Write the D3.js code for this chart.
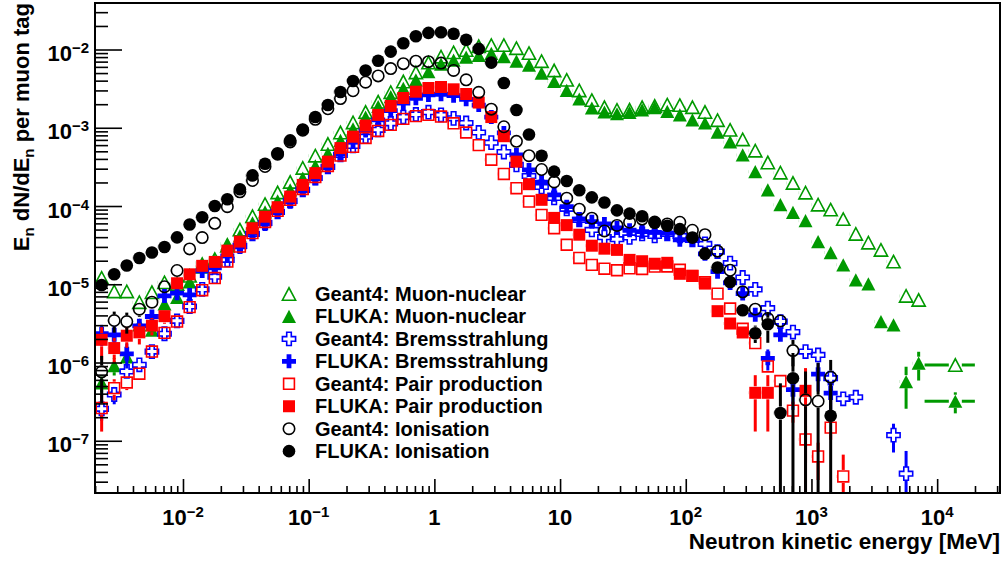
<!DOCTYPE html>
<meta charset="utf-8">
<style>
body { margin: 0; background: #fff; }
svg { display: block; font-family: "Liberation Sans", Arial, Helvetica, sans-serif; font-weight: bold; }
</style>
<svg width="1004" height="561"></svg>
<script src="https://d3js.org/d3.v7.min.js"></script>
<script>

// histogram binning: 0.1-decade bins starting at 10^-2.7, the last bin is a wide one [10^3.9, 10^4.3]
var edges = d3.range(67).map(function(k) { return Math.pow(10, -2.7 + 0.1 * k); });
edges.push(Math.pow(10, 4.3));

// E dN/dE per muon tag, one entry per bin (null = empty bin)
var g4MuNuc = [1.21e-5, 8.1e-6, 8.1e-6, 5.9e-6, 7.9e-6, 1.06e-5, 1.01e-5, 1.28e-5, 1.67e-5, 2.1e-5,
  3.1e-5, 5.0e-5, 7.4e-5, 1.06e-4, 1.49e-4, 2.03e-4, 3.07e-4, 4.4e-4, 6.2e-4, 8.7e-4,
  1.17e-3, 1.59e-3, 2.15e-3, 2.85e-3, 3.9e-3, 5.1e-3, 6.8e-3, 8.1e-3, 9.2e-3, 9.85e-3,
  1.1e-2, 1.14e-2, 1.14e-2, 1.04e-2, 9.0e-3, 7.1e-3, 5.4e-3, 4.1e-3, 3.0e-3, 2.26e-3,
  1.83e-3, 1.69e-3, 1.70e-3, 1.83e-3, 1.9e-3, 1.98e-3, 1.95e-3, 1.83e-3, 1.59e-3, 1.25e-3,
  9.4e-4, 7.1e-4, 5.1e-4, 3.6e-4, 2.67e-4, 1.97e-4, 1.48e-4, 1.04e-4, 9.0e-5, 6.8e-5,
  4.4e-5, 3.4e-5, 2.75e-5, 1.95e-5, 7.1e-6, 6.3e-6, 9.3e-7];

var flukaMuNuc = [5.5e-7, 9.1e-7, 1.18e-6, 3.03e-6, 2.6e-6, 5.6e-6, 6.8e-6, 1.07e-5, 1.88e-5, 1.99e-5,
  3.3e-5, 4.15e-5, 6.1e-5, 8.4e-5, 1.16e-4, 1.61e-4, 2.28e-4, 3.25e-4, 4.7e-4, 6.9e-4,
  9.7e-4, 1.37e-3, 1.87e-3, 2.5e-3, 3.2e-3, 4.1e-3, 5.2e-3, 6.5e-3, 7.3e-3, 8.0e-3,
  8.4e-3, 8.9e-3, 8.1e-3, 7.1e-3, 6.3e-3, 5.0e-3, 3.9e-3, 3.0e-3, 2.33e-3, 1.79e-3,
  1.59e-3, 1.51e-3, 1.57e-3, 1.69e-3, 1.81e-3, 1.62e-3, 1.46e-3, 1.26e-3, 1.15e-3, 8.8e-4,
  6.6e-4, 4.5e-4, 2.75e-4, 1.61e-4, 1.04e-4, 8.3e-5, 6.5e-5, 3.5e-5, 2.54e-5, 1.77e-5,
  1.14e-5, 1.01e-5, 3.34e-6, 3.03e-6, 5.7e-7, 9.8e-7, 3.2e-7];

var g4Brems = [2.56e-7, 3.9e-7, 7.7e-7, 9.35e-7, 1.38e-6, 2.33e-6, 3.41e-6, 5.2e-6, 8.6e-6, 1.25e-5,
  2.05e-5, 3.1e-5, 4.4e-5, 6.1e-5, 8.4e-5, 1.16e-4, 1.61e-4, 2.28e-4, 3.16e-4, 4.5e-4,
  5.86e-4, 7.7e-4, 9.4e-4, 1.14e-3, 1.37e-3, 1.48e-3, 1.58e-3, 1.46e-3, 1.32e-3, 1.15e-3,
  8.7e-4, 6.45e-4, 4.9e-4, 3.35e-4, 2.42e-4, 1.75e-4, 1.27e-4, 9.2e-5, 6.64e-5, 4.95e-5,
  4.0e-5, 3.77e-5, 3.97e-5, 4.4e-5, 4.15e-5, 4.4e-5, 4.15e-5, 3.7e-5, 3.28e-5, 2.62e-5,
  1.86e-5, 1.22e-5, 8.6e-6, 4.95e-6, 3.34e-6, 2.45e-6, 1.38e-6, 1.25e-6, 6.3e-7, 3.44e-7,
  3.6e-7, null, null, 1.18e-7, 3.8e-8];

var flukaBrems = [2.33e-6, 2.26e-6, 1.29e-6, 2.94e-6, 3.87e-6, 7.1e-6, 7.7e-6, 7.3e-6, 1.48e-5, 1.62e-5,
  2.3e-5, 3.0e-5, 4.47e-5, 5.9e-5, 8.4e-5, 1.13e-4, 1.61e-4, 2.26e-4, 3.19e-4, 4.6e-4,
  6.6e-4, 9.2e-4, 1.26e-3, 1.66e-3, 2.07e-3, 2.38e-3, 2.63e-3, 2.68e-3, 2.57e-3, 2.31e-3,
  1.95e-3, 1.37e-3, 8.6e-4, 4.5e-4, 2.89e-4, 2.02e-4, 1.39e-4, 9.8e-5, 6.8e-5, 6.3e-5,
  5.9e-5, 5.25e-5, 4.9e-5, 4.7e-5, 4.6e-5, 4.5e-5, 3.7e-5, 3.77e-5, 2.45e-5, 1.45e-5,
  1.04e-5, 7.6e-6, 4.07e-6, 1.13e-6, 2.26e-6, 4.5e-7, null, 7.1e-7, 4.07e-7];

var g4Pair = [2.62e-7, 4.7e-7, 5.55e-7, 7.2e-7, 1.38e-6, 2.39e-6, 3.34e-6, 5.1e-6, 8.4e-6, 1.2e-5,
  1.95e-5, 3.03e-5, 4.5e-5, 6.25e-5, 8.66e-5, 1.2e-4, 1.65e-4, 2.35e-4, 3.25e-4, 4.4e-4,
  5.7e-4, 7.4e-4, 9.1e-4, 1.09e-3, 1.3e-3, 1.41e-3, 1.46e-3, 1.39e-3, 1.14e-3, 8.7e-4,
  6.0e-4, 3.9e-4, 2.57e-4, 1.69e-4, 1.14e-4, 7.7e-5, 5.2e-5, 3.2e-5, 2.17e-5, 1.77e-5,
  1.58e-5, 1.51e-5, 1.6e-5, 1.57e-5, 1.68e-5, 1.69e-5, 1.53e-5, 1.28e-5, 1.06e-5, 7.6e-6,
  4.9e-6, 2.7e-6, 1.77e-6, 8.9e-7, 5.8e-7, 2.43e-7, 1.04e-7, 6.3e-8, 1.47e-7, 3.5e-8];

var flukaPair = [1.95e-6, 1.53e-6, 2.2e-6, 2.43e-6, 2.96e-6, 3.91e-6, 1.03e-5, 1.34e-5, 1.72e-5, 1.93e-5,
  2.69e-5, 3.51e-5, 5.2e-5, 7.3e-5, 9.66e-5, 1.32e-4, 1.86e-4, 2.63e-4, 3.69e-4, 5.5e-4,
  7.7e-4, 1.07e-3, 1.46e-3, 1.9e-3, 2.4e-3, 2.89e-3, 3.22e-3, 3.32e-3, 3.1e-3, 2.7e-3,
  2.1e-3, 1.37e-3, 7.8e-4, 3.69e-4, 1.9e-4, 1.2e-4, 7.05e-5, 5.7e-5, 4.3e-5, 3.11e-5,
  2.85e-5, 2.75e-5, 2.05e-5, 1.97e-5, 1.83e-5, 1.88e-5, 1.36e-5, 1.28e-5, 1.02e-5, 4.53e-6,
  3.15e-6, 2.42e-6, 4.1e-7, 4.1e-7, null, null, 4.35e-7];

var g4Ion = [7.6e-7, 3.44e-6, 3.34e-6, 4.8e-6, 5.9e-6, 9.3e-6, 1.5e-5, 2.83e-5, 3.95e-5, 6.0e-5,
  9.8e-5, 1.52e-4, 2.12e-4, 3.2e-4, 4.6e-4, 6.6e-4, 9.3e-4, 1.28e-3, 1.75e-3, 2.36e-3,
  2.97e-3, 3.82e-3, 4.6e-3, 5.7e-3, 6.6e-3, 7.1e-3, 7.0e-3, 6.7e-3, 5.4e-3, 4.1e-3,
  2.84e-3, 1.73e-3, 1.03e-3, 6.7e-4, 4.4e-4, 2.93e-4, 2.03e-4, 1.26e-4, 9.1e-5, 7.0e-5,
  4.8e-5, 5.65e-5, 6.2e-5, 6.8e-5, 6.25e-5, 5.9e-5, 6.2e-5, 4.9e-5, 4.3e-5, 2.65e-5,
  1.51e-5, 8.0e-6, 4.8e-6, 3.65e-6, 3.4e-6, 1.42e-6, 3.34e-7, 3.2e-7, 6.5e-7];

var flukaIon = [9.8e-6, 1.34e-5, 1.74e-5, 2.17e-5, 2.55e-5, 3.0e-5, 3.97e-5, 5.8e-5, 7.2e-5, 1.0e-4,
  1.22e-4, 1.64e-4, 2.46e-4, 3.47e-4, 4.72e-4, 6.9e-4, 9.5e-4, 1.37e-3, 1.95e-3, 2.86e-3,
  3.96e-3, 5.4e-3, 7.2e-3, 9.4e-3, 1.2e-2, 1.48e-2, 1.63e-2, 1.66e-2, 1.59e-2, 1.33e-2,
  1.02e-2, 6.8e-3, 3.73e-3, 1.69e-3, 8.2e-4, 4.39e-4, 2.75e-4, 2.09e-4, 1.59e-4, 1.29e-4,
  1.11e-4, 8.8e-5, 8.0e-5, 7.4e-5, 6.1e-5, 5.6e-5, 5.06e-5, 3.95e-5, 2.46e-5, 1.64e-5,
  1.07e-5, 4.65e-6, 2.37e-6, 3.08e-6, 2.26e-7, 6.3e-7, null, null, 2.09e-7];

// relative statistical errors [bin, sigma/value] where the bar sticks out of the marker
var g4MuNucErr = [[0, 0.15], [1, 0.1], [2, 0.1], [3, 0.12], [64, 0.15], [65, 0.15], [66, 0.1]];
var flukaMuNucErr = [[0, 0.25], [1, 0.25], [2, 0.2], [3, 0.2], [4, 0.15], [62, 0.12], [63, 0.12], [64, 0.55], [65, 0.4], [66, 0.3]];
var g4BremsErr = [[0, 0.3], [1, 0.25], [2, 0.15], [59, 0.15], [60, 0.15], [63, 0.4], [64, 0.95]];
var flukaBremsErr = [[0, 0.3], [1, 0.3], [2, 0.35], [3, 0.2], [53, 0.3], [55, 0.45], [57, 0.4], [58, 0.4]];
var g4PairErr = [[0, 0.5], [1, 0.3], [2, 0.2], [55, 0.3], [56, 0.5], [57, 0.5], [58, 0.3], [59, 0.9]];
var flukaPairErr = [[0, 0.45], [1, 0.35], [2, 0.3], [3, 0.3], [4, 0.25], [5, 0.2], [50, 0.12], [51, 0.15], [52, 0.68], [53, 0.68], [56, 0.95]];
var g4IonErr = [[0, 0.6], [1, 0.3], [2, 0.3], [3, 0.2], [55, 0.37], [56, 1.3], [57, 2.1], [58, 0.66]];
var flukaIonErr = [[51, 0.15], [52, 0.25], [53, 0.42], [54, 1.4], [55, 1.1], [58, 1.2]];

var xTickExp = [-2, -1, 0, 1, 2, 3, 4];
var yTickExp = [-7, -6, -5, -4, -3, -2];

var green = "#009900", blue = "#0000ff", red = "#ff0000", black = "#000000";

var series = [
  {name: "Geant4: Muon-nuclear", values: g4MuNuc, errs: g4MuNucErr, color: green, shape: "tri", filled: false},
  {name: "FLUKA: Muon-nuclear", values: flukaMuNuc, errs: flukaMuNucErr, color: green, shape: "tri", filled: true},
  {name: "Geant4: Bremsstrahlung", values: g4Brems, errs: g4BremsErr, color: blue, shape: "cross", filled: false},
  {name: "FLUKA: Bremsstrahlung", values: flukaBrems, errs: flukaBremsErr, color: blue, shape: "cross", filled: true},
  {name: "Geant4: Pair production", values: g4Pair, errs: g4PairErr, color: red, shape: "square", filled: false},
  {name: "FLUKA: Pair production", values: flukaPair, errs: flukaPairErr, color: red, shape: "square", filled: true},
  {name: "Geant4: Ionisation", values: g4Ion, errs: g4IonErr, color: black, shape: "circle", filled: false},
  {name: "FLUKA: Ionisation", values: flukaIon, errs: flukaIonErr, color: black, shape: "circle", filled: true}
];

var svg = d3.select("svg"),
    padL = 95, padR = 1000, padT = 3, padB = 493;

var x = d3.scaleLog().domain([Math.pow(10, -2.7), Math.pow(10, 4.5)]).range([padL, padR]);
var y = d3.scaleLog().domain([2.15e-8, 3.93e-2]).range([padB, padT]);

function markerPath(shape, filled) {
  if (shape === "circle") {
    var r = filled ? 6.3 : 5.7;
    return "M" + (-r) + ",0A" + r + "," + r + " 0 1,0 " + r + ",0A" + r + "," + r + " 0 1,0 " + (-r) + ",0Z";
  }
  if (shape === "square") {
    var s = filled ? 6 : 5.4;
    return "M" + (-s) + "," + (-s) + "H" + s + "V" + s + "H" + (-s) + "Z";
  }
  if (shape === "tri") {
    var w = filled ? 7 : 6.6, h = filled ? 6.6 : 6.2;
    return "M" + (-w) + "," + h + "L" + w + "," + h + "L0," + (-h) + "Z";
  }
  // cross
  var c = filled ? 7 : 6.6, a = filled ? 2.4 : 2.3;
  return "M" + (-a) + "," + (-c) + "H" + a + "V" + (-a) + "H" + c + "V" + a + "H" + a + "V" + c +
    "H" + (-a) + "V" + a + "H" + (-c) + "V" + (-a) + "H" + (-a) + "Z";
}

function styleMarker(sel, s) {
  sel.attr("d", markerPath(s.shape, s.filled))
    .attr("fill", s.filled ? s.color : "none")
    .attr("stroke", s.filled ? "none" : s.color)
    .attr("stroke-width", s.filled ? 0 : 1.6);
}

svg.append("defs").append("clipPath").attr("id", "plotclip")
  .append("rect").attr("x", padL).attr("y", padT).attr("width", padR - padL).attr("height", padB - padT);

var plot = svg.append("g").attr("clip-path", "url(#plotclip)");
var gap = 6.5;

series.forEach(function(s) {
  var errMap = new Map(s.errs);
  var pts = [];
  s.values.forEach(function(v, i) {
    if (v == null) return;
    var cx = x((edges[i] + edges[i + 1]) / 2), cy = y(v);
    pts.push({cx: cx, cy: cy, v: v, e: errMap.get(i) || 0, xl: x(edges[i]), xr: x(edges[i + 1])});
  });

  var segs = [];
  pts.forEach(function(p) {
    if (p.e > 0) {
      var up = y(p.v * (1 + p.e));
      var dn = p.e < 1 ? Math.min(y(p.v * (1 - p.e)), padB + 5) : padB + 5;
      if (up < p.cy - gap) segs.push([p.cx, up, p.cx, p.cy - gap]);
      if (dn > p.cy + gap) segs.push([p.cx, p.cy + gap, p.cx, dn]);
    }
    if (p.xl < p.cx - gap) segs.push([p.xl, p.cy, p.cx - gap, p.cy]);
    if (p.xr > p.cx + gap) segs.push([p.cx + gap, p.cy, p.xr, p.cy]);
  });

  var g = plot.append("g");
  g.selectAll("line").data(segs).enter().append("line")
    .attr("x1", function(d) { return d[0]; }).attr("y1", function(d) { return d[1]; })
    .attr("x2", function(d) { return d[2]; }).attr("y2", function(d) { return d[3]; })
    .attr("stroke", s.color).attr("stroke-width", 3);

  g.selectAll("path").data(pts).enter().append("path")
    .attr("transform", function(d) { return "translate(" + d.cx + "," + d.cy + ")"; })
    .call(styleMarker, s);
});

// frame
svg.append("rect").attr("x", padL).attr("y", padT).attr("width", padR - padL).attr("height", padB - padT)
  .attr("fill", "none").attr("stroke", "#000").attr("stroke-width", 2);

// ticks (ROOT style, pointing inward)
function minors(lo, hi) {
  var out = [];
  for (var d = lo; d <= hi; d++) for (var m = 2; m <= 9; m++) out.push(m * Math.pow(10, d));
  return out;
}
var xMaj = xTickExp.map(function(e) { return Math.pow(10, e); });
var yMaj = yTickExp.map(function(e) { return Math.pow(10, e); });
var xMin = minors(-3, 4).filter(function(v) { return v > x.domain()[0] && v < x.domain()[1]; });
var yMin = minors(-8, -2).filter(function(v) { return v > y.domain()[0] && v < y.domain()[1]; });

function tickAxis(axis, vals, size, tr) {
  svg.append("g").attr("transform", tr)
    .call(axis.tickValues(vals).tickSize(size).tickSizeOuter(0).tickFormat(""))
    .call(function(g) { g.select(".domain").remove(); })
    .selectAll("line").attr("stroke", "#000").attr("stroke-width", 1.6);
}
tickAxis(d3.axisRight(y), yMaj, 27, "translate(" + padL + ",0)");
tickAxis(d3.axisRight(y), yMin, 13, "translate(" + padL + ",0)");
tickAxis(d3.axisTop(x), xMaj, 14, "translate(0," + padB + ")");
tickAxis(d3.axisTop(x), xMin, 7, "translate(0," + padB + ")");

function powLabel(t, e) {
  if (e === 0) { t.text("1"); return; }
  t.append("tspan").text("10");
  if (e !== 1) t.append("tspan").attr("dy", -8).attr("font-size", 15).text((e < 0 ? "\u2212" : "") + Math.abs(e));
}

svg.append("g").selectAll("text").data(xTickExp).enter().append("text")
  .attr("x", function(e) { return x(Math.pow(10, e)); })
  .attr("y", 525)
  .attr("text-anchor", "middle").attr("font-size", 22)
  .each(function(e) { powLabel(d3.select(this), e); });

svg.append("g").selectAll("text").data(yTickExp).enter().append("text")
  .attr("x", 89)
  .attr("y", function(e) { return y(Math.pow(10, e)) + 11.5; })
  .attr("text-anchor", "end").attr("font-size", 22)
  .each(function(e) { powLabel(d3.select(this), e); });

// axis titles
svg.append("text").attr("x", padR).attr("y", 549).attr("text-anchor", "end").attr("font-size", 22.5)
  .text("Neutron kinetic energy [MeV]");

var yt = svg.append("text").attr("transform", "translate(29,3) rotate(-90)")
  .attr("text-anchor", "end").attr("font-size", 22);
yt.append("tspan").text("E");
yt.append("tspan").attr("font-size", 15).attr("dy", 5).text("n");
yt.append("tspan").attr("dy", -5).text(" dN/dE");
yt.append("tspan").attr("font-size", 15).attr("dy", 5).text("n");
yt.append("tspan").attr("dy", -5).text(" per muon tag");

// legend
var leg = svg.append("g").selectAll("g").data(series).enter().append("g")
  .attr("transform", function(d, i) { return "translate(289," + (294 + 22.45 * i) + ")"; });
leg.append("path").each(function(s) { d3.select(this).call(styleMarker, s); });
leg.append("text").attr("x", 26).attr("y", 7).attr("font-size", 20)
  .text(function(s) { return s.name; });

</script>
